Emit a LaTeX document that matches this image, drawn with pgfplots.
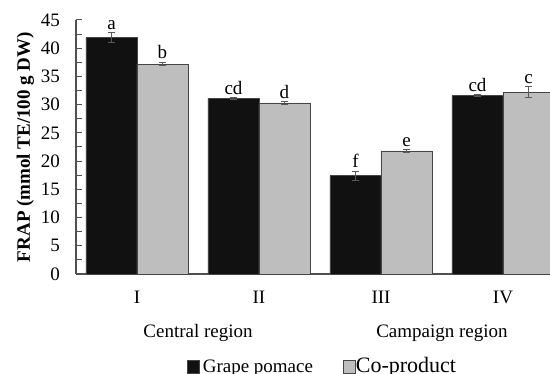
\documentclass[border=0pt]{standalone}
\usepackage{fontspec}
\setmainfont{Liberation Serif}
\usepackage{pgfplots}
\pgfplotsset{compat=1.18}
\usepackage{pgfplotstable}

\definecolor{pomace}{HTML}{111111}
\definecolor{coprod}{HTML}{BEBEBE}
\definecolor{edge}{HTML}{454545}
\definecolor{axisgray}{HTML}{505050}
\definecolor{errgray}{HTML}{5A5A5A}

% FRAP, mean and standard deviation per sample
\pgfplotstableread{
x  y     err
0  41.9  0.8
1  31.1  0.15
2  17.4  0.8
3  31.6  0.15
}\pomacetab
\pgfplotstableread{
x  y     err
0  37.2  0.3
1  30.3  0.2
2  21.8  0.2
3  32.2  1.0
}\coprodtab

\pgfplotsset{
  swatch/.style={legend image code/.code={%
    \draw[##1, line width=0.8pt] (0pt,0pt) rectangle (12pt,13pt);}},
  errstyle/.style={error bars/.cd, y dir=both, y explicit,
    error bar style={draw=errgray, line width=1pt},
    error mark options={rotate=90, mark size=3.5pt, line width=1pt, draw=errgray}},
}

\begin{document}
\begin{tikzpicture}[font=\fontsize{19}{22}\selectfont]
\path[use as bounding box, clip] (0,0) rectangle (550pt,374pt);
\begin{axis}[
  at={(76pt,100pt)}, anchor=south west,
  scale only axis, width=488pt, height=254pt,
  xmin=-0.5, xmax=3.5, ymin=0, ymax=45,
  clip=false,
  axis x line*=bottom, axis y line*=left,
  axis line style={draw=axisgray, line width=1.2pt},
  ybar=0pt, bar width=51pt,
  xtick={0,1,2,3}, xticklabels={I,II,III,IV},
  ytick={0,5,...,45}, minor ytick={2.5,7.5,...,42.5},
  tick align=inside,
  major tick length=6pt, minor tick length=6pt,
  every tick/.style={draw=axisgray, line width=1pt},
  major x tick style={draw=none},
  /pgf/number format/assume math mode=true,
  yticklabel style={anchor=east, inner sep=0pt, xshift=-16pt},
  xticklabel style={anchor=north, inner sep=0pt, yshift=-17pt},
  every axis y label/.style={at={(axis description cs:-0.0943,0.5)},
    rotate=90, anchor=base},
  ylabel={\textbf{FRAP (mmol TE/100 g DW)}},
  legend columns=2,
  legend style={draw=none, fill=none, inner sep=0pt, outer sep=0pt,
    at={(axis description cs:0.2275,-0.3295)}, anchor=north west,
    nodes={inner sep=0pt}, cells={anchor=base west},
    /tikz/column 1/.style={column sep=3pt},
    /tikz/column 2/.style={column sep=30pt},
    /tikz/column 3/.style={column sep=0pt}},
]
\addplot[fill=pomace, draw=edge, line width=0.8pt, swatch, errstyle]
  table[x=x, y=y, y error=err]{\pomacetab};
\addlegendentry{\fontsize{19}{22}\selectfont Grape pomace}
\addplot[fill=coprod, draw=edge, line width=0.8pt, swatch, errstyle]
  table[x=x, y=y, y error=err]{\coprodtab};
\addlegendentry{\fontsize{22}{26}\selectfont Co-product}

% significance letters above the error bars
\node[anchor=base, yshift=3.5pt] at ([xshift=-25.5pt]axis cs:0,42.7) {a};
\node[anchor=base, yshift=3.5pt] at ([xshift=25.5pt]axis cs:0,37.5) {b};
\node[anchor=base, yshift=3.5pt] at ([xshift=-25.5pt]axis cs:1,31.25) {cd};
\node[anchor=base, yshift=3.5pt] at ([xshift=25.5pt]axis cs:1,30.5) {d};
\node[anchor=base, yshift=3.5pt] at ([xshift=-25.5pt]axis cs:2,18.2) {f};
\node[anchor=base, yshift=3.5pt] at ([xshift=25.5pt]axis cs:2,22.0) {e};
\node[anchor=base, yshift=3.5pt] at ([xshift=-25.5pt]axis cs:3,31.75) {cd};
\node[anchor=base, yshift=3.5pt] at ([xshift=25.5pt]axis cs:3,33.2) {c};

% region names under the group labels
\node[anchor=base, yshift=-64pt] at (axis cs:0.5,0) {Central region};
\node[anchor=base, yshift=-64pt] at (axis cs:2.5,0) {Campaign region};
\end{axis}
\end{tikzpicture}
\end{document}
